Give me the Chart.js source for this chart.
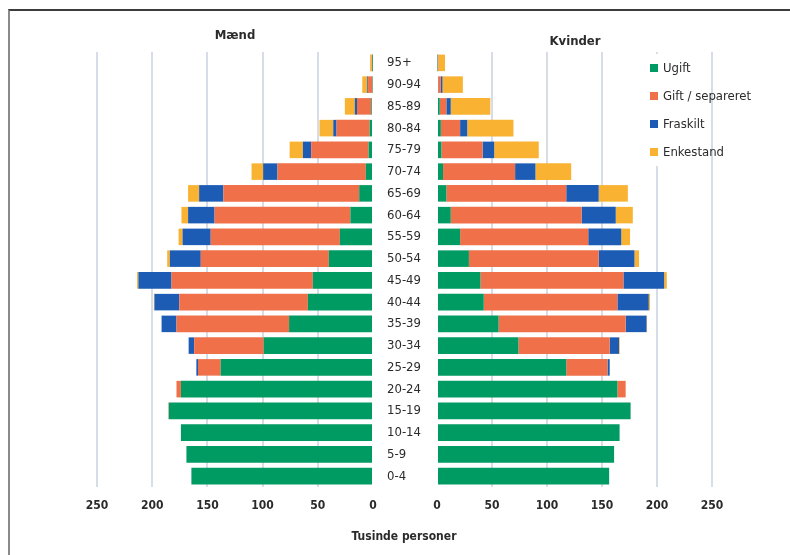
<!DOCTYPE html>
<html>
<head>
<meta charset="utf-8">
<script src="https://cdn.jsdelivr.net/npm/chart.js@4/dist/chart.umd.min.js"></script>
<style>
  body { margin: 0; background: #fff; }
  #wrap { position: relative; width: 790px; height: 555px; overflow: hidden; font-family: "DejaVu Sans Condensed", "Liberation Sans Narrow", sans-serif; color: #2b2b2b; }
  #frame { position: absolute; left: 8px; top: 9px; right: -4px; bottom: -4px; border-top: 2px solid #3c3c3c; border-left: 2px solid #8a8a8a; }
  canvas { position: absolute; left: 0; top: 0; }
  .lbl { position: absolute; font-size: 13px; font-weight: bold; transform: translateX(-50%); white-space: nowrap; }
  #legend { position: absolute; left: 647px; top: 54px; width: 58px; height: 112px; background: #fff; }
  #legend div { position: absolute; left: 6px; font-size: 13px; white-space: nowrap; line-height: 16px; }
  #legend span { position: absolute; left: -3px; top: 4px; width: 8px; height: 8px; }
  #legend div { padding-left: 10px; }
</style>
</head>
<body>
<div id="wrap">
  <div id="frame"></div>
  <canvas id="maend" width="790" height="555"></canvas>
  <canvas id="kvinder" width="790" height="555"></canvas>
  <div class="lbl" style="left:235px;top:27px;">Mænd</div>
  <div class="lbl" style="left:575px;top:33px;">Kvinder</div>
  <div class="lbl" style="left:404px;top:529px;font-size:12px;">Tusinde personer</div>
  <div id="legend"></div>
</div>
<script>
const ages = ['0-4', '5-9', '10-14', '15-19', '20-24', '25-29', '30-34', '35-39', '40-44', '45-49',
  '50-54', '55-59', '60-64', '65-69', '70-74', '75-79', '80-84', '85-89', '90-94', '95+'];
const seriesNames = ['Ugift', 'Gift / separeret', 'Fraskilt', 'Enkestand'];
const seriesColors = ['#009a63', '#f0704a', '#1c5cb5', '#f9b232'];

// Mænd, tusinde personer
const maendUgift = [164.5, 169, 174, 185, 174, 138, 99, 76, 59, 54.5, 40, 30, 20.5, 12.5, 6.5, 4, 3, 1.5, 0.5, 0.3];
const maendGift = [0, 0, 0, 0.3, 4, 20.5, 63, 102, 116.5, 128, 116, 117, 123, 123, 80, 52, 30, 13, 4, 0.8];
const maendFraskilt = [0, 0, 0, 0, 0, 1.5, 5, 13.5, 22.5, 30, 28, 25.5, 24, 22, 13, 7.5, 3, 2, 0.7, 0];
const maendEnke = [0, 0, 0, 0, 0, 0, 0, 0, 0.5, 1.2, 2.4, 3.6, 6, 10, 10.5, 12, 12.5, 9, 4.5, 1.5];

// Kvinder, tusinde personer
const kvinderUgift = [156.5, 161, 166, 176, 164, 117.5, 74, 56, 42.5, 39.5, 29, 21, 12.5, 8.5, 5.5, 4, 3.5, 2.5, 1, 0.5];
const kvinderGift = [0, 0, 0, 0, 7.5, 37.5, 83, 115.5, 121.5, 130, 118, 116.5, 119, 109, 65.5, 37.5, 17.5, 6, 2.5, 0.8];
const kvinderFraskilt = [0, 0, 0, 0, 0, 2, 8.5, 19, 28.5, 37, 32.5, 30, 31, 29.5, 18.5, 10.5, 6.5, 4, 1.5, 0];
const kvinderEnke = [0, 0, 0, 0, 0, 0, 0.6, 0.5, 1.2, 2.4, 4.2, 8, 15.5, 26.5, 32.5, 40.5, 42, 36, 18.5, 6];

const xTicks = [0, 50, 100, 150, 200, 250];

const fontFam = '"DejaVu Sans Condensed", "Liberation Sans Narrow", sans-serif';

function makeDatasets(values) {
  return values.map((data, i) => ({
    label: seriesNames[i],
    data: data,
    backgroundColor: seriesColors[i],
    borderWidth: 0,
    barPercentage: 0.76,
    categoryPercentage: 1
  }));
}

function xAxis(reverse) {
  return {
    type: 'linear',
    stacked: true,
    reverse: reverse,
    min: 0,
    max: 250,
    afterBuildTicks: scale => { scale.ticks = xTicks.map(v => ({ value: v })); },
    afterFit: scale => { scale.height = 30; },
    border: { display: false },
    grid: {
      drawTicks: false,
      lineWidth: 2,
      color: ctx => (ctx.tick && ctx.tick.value === 0) ? 'rgba(0,0,0,0)' : '#d7dde6'
    },
    ticks: {
      padding: 12,
      color: '#2b2b2b',
      font: { family: fontFam, size: 12, weight: 'bold' }
    }
  };
}

// venstre side: mænd, med aldersgrupper som akse i midten
new Chart(document.getElementById('maend'), {
  type: 'bar',
  data: {
    labels: ages,
    datasets: makeDatasets([maendUgift, maendGift, maendFraskilt, maendEnke])
  },
  options: {
    indexAxis: 'y',
    responsive: false,
    animation: false,
    layout: { padding: { left: 97, right: 357, top: 52, bottom: 38 } },
    plugins: { legend: { display: false }, tooltip: { enabled: false } },
    scales: {
      x: xAxis(true),
      y: {
        position: 'right',
        stacked: true,
        reverse: true,
        afterFit: scale => { scale.width = 60; },
        border: { display: false },
        grid: { display: false, drawTicks: false },
        ticks: {
          padding: 14,
          autoSkip: false,
          color: '#2b2b2b',
          font: { family: fontFam, size: 13 }
        }
      }
    }
  }
});

// højre side: kvinder
new Chart(document.getElementById('kvinder'), {
  type: 'bar',
  data: {
    labels: ages,
    datasets: makeDatasets([kvinderUgift, kvinderGift, kvinderFraskilt, kvinderEnke])
  },
  options: {
    indexAxis: 'y',
    responsive: false,
    animation: false,
    layout: { padding: { left: 437, right: 78, top: 52, bottom: 38 } },
    plugins: { legend: { display: false }, tooltip: { enabled: false } },
    scales: {
      x: xAxis(false),
      y: { display: false, stacked: true, reverse: true }
    }
  }
});

// Legende
const legendBox = document.getElementById('legend');
legendBox.innerHTML = seriesNames.map((name, i) =>
  `<div style="top:${6 + i * 28}px"><span style="background:${seriesColors[i]}"></span>${name}</div>`
).join('');
</script>
</body>
</html>
